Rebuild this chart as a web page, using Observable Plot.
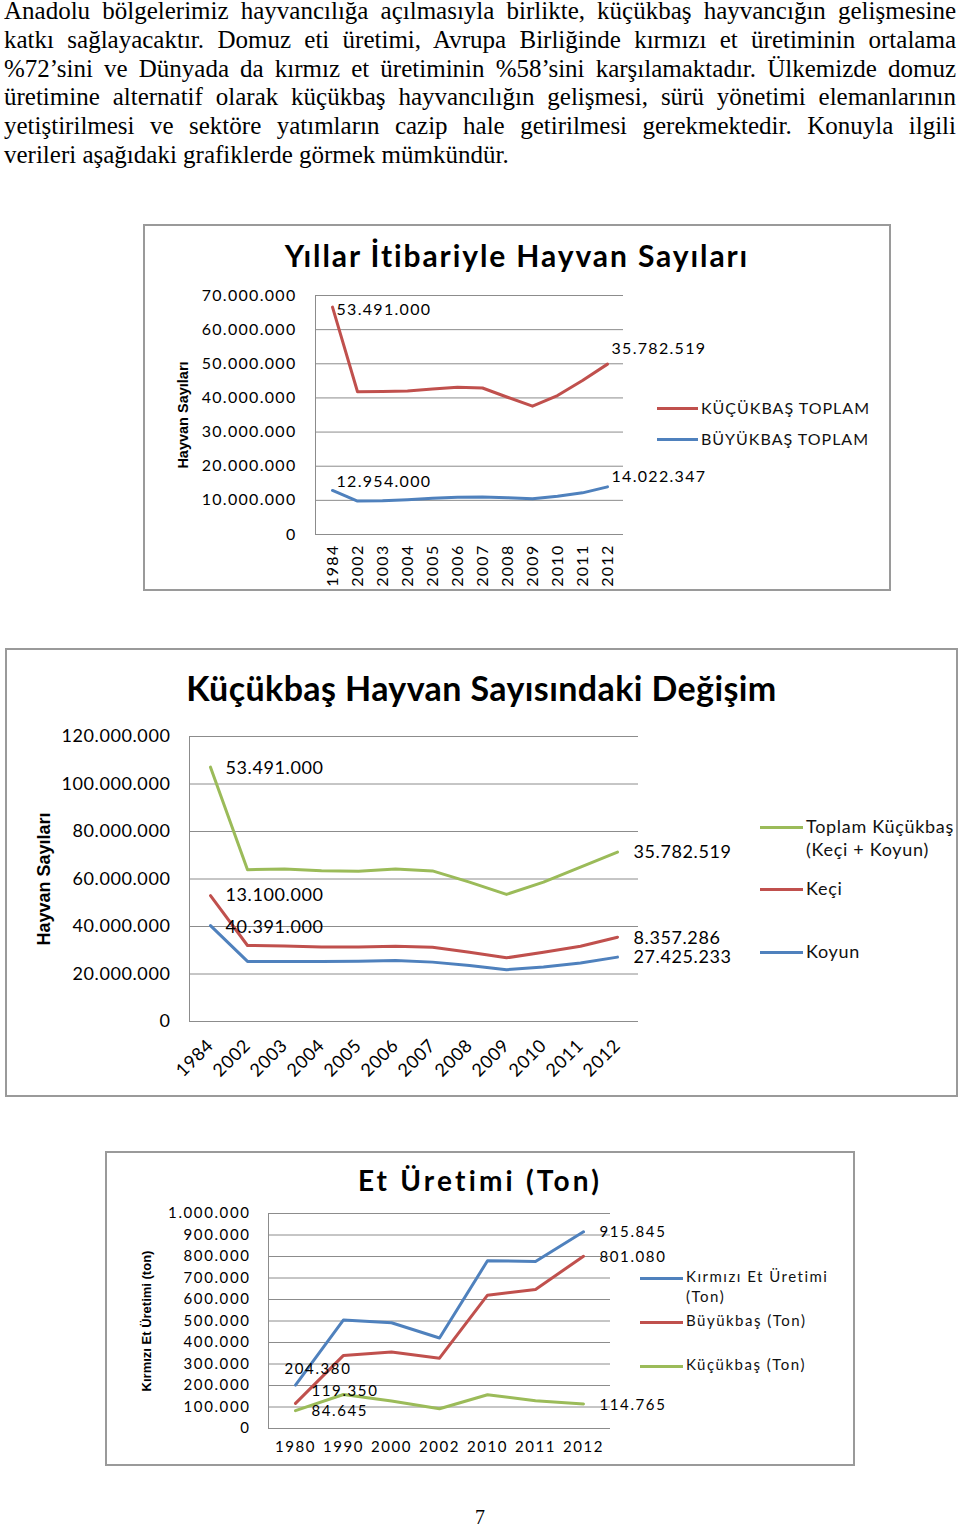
<!DOCTYPE html>
<html><head><meta charset="utf-8">
<script src="https://cdn.jsdelivr.net/npm/d3@7"></script>
<script src="https://cdn.jsdelivr.net/npm/@observablehq/plot@0.6"></script>
<style>
html,body{margin:0;padding:0;background:#fff;}
body{width:960px;height:1529px;position:relative;overflow:hidden;}
#para{position:absolute;left:4px;top:-3px;width:952px;font-family:"Liberation Serif","Times New Roman",serif;font-size:25px;line-height:28.8px;color:#000;}
#para div{text-align:justify;text-align-last:justify;}
#para div.last{text-align-last:left;}
.frame{position:absolute;border:2px solid #9a9a9a;box-sizing:border-box;background:#fff;}
.title{position:absolute;text-align:center;font-family:Lato,sans-serif;font-weight:bold;color:#000;white-space:nowrap;line-height:1;}
.leg{position:absolute;font-family:Lato,sans-serif;color:#111;white-space:nowrap;line-height:1.3;}
.leg .sw{position:absolute;height:3px;}
#pnum{position:absolute;left:0;width:960px;top:1506px;text-align:center;font-family:"Liberation Serif",serif;font-size:20px;}
</style></head>
<body>
<div id="para">
<div>Anadolu bölgelerimiz hayvancılığa açılmasıyla birlikte, küçükbaş hayvancığın gelişmesine</div>
<div>katkı sağlayacaktır. Domuz eti üretimi, Avrupa Birliğinde kırmızı et üretiminin ortalama</div>
<div>%72’sini ve Dünyada da kırmız et üretiminin %58’sini karşılamaktadır. Ülkemizde domuz</div>
<div>üretimine alternatif olarak küçükbaş hayvancılığın gelişmesi, sürü yönetimi elemanlarının</div>
<div>yetiştirilmesi ve sektöre yatımların cazip hale getirilmesi gerekmektedir. Konuyla ilgili</div>
<div class="last">verileri aşağıdaki grafiklerde görmek mümkündür.</div>
</div>

<div class="frame" style="left:143px;top:224px;width:748px;height:367px;"></div>
<div class="frame" style="left:5px;top:648px;width:953px;height:449px;"></div>
<div class="frame" style="left:105px;top:1151px;width:750px;height:315px;"></div>

<div class="title" style="left:143px;width:748px;top:240px;font-size:30px;letter-spacing:1.9px;">Yıllar İtibariyle Hayvan Sayıları</div>
<div class="title" style="left:5px;width:953px;top:671px;font-size:34px;letter-spacing:0.4px;">Küçükbaş Hayvan Sayısındaki Değişim</div>
<div class="title" style="left:105px;width:750px;top:1166px;font-size:28px;letter-spacing:3.2px;">Et Üretimi (Ton)</div>

<div id="pnum">7</div>

<script>
// ---------- DATA ----------
const years1 = ["1984","2002","2003","2004","2005","2006","2007","2008","2009","2010","2011","2012"];
const kucukbasToplam1 = [66.6e6, 41.8e6, 41.9e6, 42.0e6, 42.6e6, 43.1e6, 42.9e6, 40.2e6, 37.6e6, 40.7e6, 45.1e6, 49.9e6];
const buyukbasToplam1 = [12.9e6, 9.8e6, 9.9e6, 10.2e6, 10.6e6, 10.9e6, 11.0e6, 10.8e6, 10.5e6, 11.2e6, 12.2e6, 13.95e6];
const yTicks1 = [0, 10e6, 20e6, 30e6, 40e6, 50e6, 60e6, 70e6];
const dataLabels1 = ["53.491.000", "35.782.519", "12.954.000", "14.022.347"];
const legend1 = ["KÜÇÜKBAŞ TOPLAM", "BÜYÜKBAŞ TOPLAM"];
const title1 = "Hayvan Sayıları";

const years2 = ["1984","2002","2003","2004","2005","2006","2007","2008","2009","2010","2011","2012"];
const toplamKucukbas2 = [107.1e6, 63.9e6, 64.2e6, 63.5e6, 63.3e6, 64.2e6, 63.4e6, 58.7e6, 53.5e6, 58.7e6, 65.0e6, 71.3e6];
const keci2 = [53.0e6, 32.0e6, 31.8e6, 31.4e6, 31.4e6, 31.7e6, 31.3e6, 29.2e6, 26.8e6, 29.2e6, 31.7e6, 35.5e6];
const koyun2 = [40.4e6, 25.3e6, 25.3e6, 25.3e6, 25.4e6, 25.7e6, 25.0e6, 23.6e6, 21.8e6, 22.9e6, 24.6e6, 27.1e6];
const yTicks2 = [0, 20e6, 40e6, 60e6, 80e6, 100e6, 120e6];
const dataLabels2 = ["53.491.000", "35.782.519", "13.100.000", "8.357.286", "40.391.000", "27.425.233"];
const legend2 = ["Toplam Küçükbaş", "(Keçi + Koyun)", "Keçi", "Koyun"];
const title2 = "Hayvan Sayıları";

const years3 = ["1980","1990","2000","2002","2010","2011","2012"];
const kirmiziEt3 = [202000, 505000, 492000, 421000, 780000, 777000, 915000];
const buyukbasEt3 = [117000, 340000, 356000, 327000, 620000, 647000, 801000];
const kucukbasEt3 = [83000, 158000, 128000, 92000, 157000, 129000, 114000];
const yTicks3 = [0, 100000, 200000, 300000, 400000, 500000, 600000, 700000, 800000, 900000, 1000000];
const dataLabels3 = ["915.845", "801.080", "204.380", "119.350", "84.645", "114.765"];
const legend3 = ["Kırmızı Et Üretimi", "(Ton)", "Büyükbaş (Ton)", "Küçükbaş (Ton)"];
const title3 = "Kırmızı Et Üretimi (ton)";

// ---------- HELPERS ----------
const blue = "#4F81BD", red = "#C0504D", green = "#9BBB59", gridC = "#8c8c8c";
const fmt = d3.formatLocale({decimal: ",", thousands: ".", grouping: [3], currency: ["", ""]}).format(",");
const series = (xs, vs) => xs.map((x, i) => ({x, y: vs[i]}));
const lab = (x, y, t, dx, dy, anchor = "start") =>
  Plot.text([{x, y, t}], {x: "x", y: "y", text: "t", dx, dy, textAnchor: anchor});
function place(svg, left, top) {
  svg.style.position = "absolute";
  svg.style.left = left + "px";
  svg.style.top = top + "px";
  svg.querySelectorAll('g[font-weight="bold"]').forEach(g => g.style.letterSpacing = "0px");
  document.body.appendChild(svg);
}
function legend(left, items, fontSize, letterSpacing, swLen) {
  items.forEach(it => {
    const d = document.createElement("div");
    d.className = "leg";
    d.style.left = left + "px";
    d.style.top = it.y + "px";
    d.style.fontSize = fontSize + "px";
    d.style.letterSpacing = letterSpacing + "px";
    d.style.paddingLeft = (swLen + 3) + "px";
    d.innerHTML = `<div class="sw" style="left:0;width:${swLen}px;top:${it.lineTop}px;background:${it.color}"></div>${it.text}`;
    document.body.appendChild(d);
  });
}
const yTitle = (t, dx, size) => Plot.text([t], {frameAnchor: "left", dx, rotate: -90, textAnchor: "middle", fontWeight: "bold", fontFamily: "Liberation Sans, Arial, sans-serif", fontSize: size});

// ---------- CHART 1 ----------
const c1 = Plot.plot({
  width: 744, height: 317,
  marginLeft: 170, marginRight: 266, marginTop: 23, marginBottom: 55,
  style: {background: "transparent", fontFamily: "Lato, sans-serif", fontSize: "16px", letterSpacing: "1.3px", color: "#000", overflow: "visible"},
  x: {type: "point", domain: years1, padding: 0.5},
  y: {domain: [0, 70e6]},
  marks: [
    Plot.gridY(yTicks1, {stroke: gridC, strokeOpacity: 1}),
    Plot.frame({anchor: "left", stroke: gridC}),
    Plot.axisY(yTicks1, {tickSize: 0, tickPadding: 19, tickFormat: fmt, label: null, fontSize: 16}),
    Plot.axisX({tickSize: 0, tickPadding: 10, tickRotate: -90, label: null, fontSize: 16}),
    Plot.line(series(years1, kucukbasToplam1), {x: "x", y: "y", stroke: red, strokeWidth: 3, strokeLinejoin: "round"}),
    Plot.line(series(years1, buyukbasToplam1), {x: "x", y: "y", stroke: blue, strokeWidth: 3, strokeLinejoin: "round"}),
    lab(years1[0], kucukbasToplam1[0], dataLabels1[0], 4, 3),
    lab(years1[11], kucukbasToplam1[11], dataLabels1[1], 4, -15),
    lab(years1[0], buyukbasToplam1[0], dataLabels1[2], 4, -9),
    lab(years1[11], buyukbasToplam1[11], dataLabels1[3], 4, -10),
    yTitle(title1, -132, 14.5)
  ]
});
place(c1, 145, 272);
legend(657, [
  {y: 398, lineTop: 9, color: red, text: legend1[0]},
  {y: 429, lineTop: 9, color: blue, text: legend1[1]}
], 16, 1.0, 41);

// ---------- CHART 2 ----------
const c2 = Plot.plot({
  width: 949, height: 377,
  marginLeft: 182, marginRight: 318, marginTop: 18, marginBottom: 74,
  style: {background: "transparent", fontFamily: "Lato, sans-serif", fontSize: "18px", letterSpacing: "0.6px", color: "#000", overflow: "visible"},
  x: {type: "point", domain: years2, padding: 0.5},
  y: {domain: [0, 120e6]},
  marks: [
    Plot.gridY(yTicks2, {stroke: gridC, strokeOpacity: 1}),
    Plot.frame({anchor: "left", stroke: gridC}),
    Plot.axisY(yTicks2, {tickSize: 0, tickPadding: 19, tickFormat: fmt, label: null, fontSize: 18}),
    Plot.axisX({tickSize: 0, tickPadding: 21, tickRotate: -45, label: null, fontSize: 18}),
    Plot.line(series(years2, toplamKucukbas2), {x: "x", y: "y", stroke: green, strokeWidth: 3, strokeLinejoin: "round"}),
    Plot.line(series(years2, keci2), {x: "x", y: "y", stroke: red, strokeWidth: 3, strokeLinejoin: "round"}),
    Plot.line(series(years2, koyun2), {x: "x", y: "y", stroke: blue, strokeWidth: 3, strokeLinejoin: "round"}),
    lab(years2[0], toplamKucukbas2[0], dataLabels2[0], 15, 1),
    lab(years2[11], toplamKucukbas2[11], dataLabels2[1], 16, 0),
    lab(years2[0], keci2[0], dataLabels2[2], 15, 0),
    lab(years2[11], keci2[11], dataLabels2[3], 16, 1),
    lab(years2[0], koyun2[0], dataLabels2[4], 15, 2),
    lab(years2[11], koyun2[11], dataLabels2[5], 16, 0),
    yTitle(title2, -145, 18)
  ]
});
place(c2, 7, 718);
legend(760, [
  {y: 815, lineTop: 11, color: green, text: legend2[0] + "<br>" + legend2[1]},
  {y: 877, lineTop: 11, color: red, text: legend2[2]},
  {y: 940, lineTop: 11, color: blue, text: legend2[3]}
], 18, 0.7, 43);

// ---------- CHART 3 ----------
const c3 = Plot.plot({
  width: 746, height: 264,
  marginLeft: 161, marginRight: 243, marginTop: 13, marginBottom: 36,
  style: {background: "transparent", fontFamily: "Lato, sans-serif", fontSize: "15px", letterSpacing: "1.6px", color: "#000", overflow: "visible"},
  x: {type: "point", domain: years3, padding: 0.5},
  y: {domain: [0, 1e6]},
  marks: [
    Plot.gridY(yTicks3, {stroke: gridC, strokeOpacity: 1}),
    Plot.frame({anchor: "left", stroke: gridC}),
    Plot.axisY(yTicks3, {tickSize: 0, tickPadding: 18, tickFormat: fmt, label: null, fontSize: 15}),
    Plot.axisX({tickSize: 0, tickPadding: 13, label: null, fontSize: 15}),
    Plot.line(series(years3, kirmiziEt3), {x: "x", y: "y", stroke: blue, strokeWidth: 3, strokeLinejoin: "round"}),
    Plot.line(series(years3, buyukbasEt3), {x: "x", y: "y", stroke: red, strokeWidth: 3, strokeLinejoin: "round"}),
    Plot.line(series(years3, kucukbasEt3), {x: "x", y: "y", stroke: green, strokeWidth: 3, strokeLinejoin: "round"}),
    lab(years3[6], kirmiziEt3[6], dataLabels3[0], 16, 0),
    lab(years3[6], buyukbasEt3[6], dataLabels3[1], 16, 1),
    lab(years3[0], kirmiziEt3[0], dataLabels3[2], -11, -16),
    lab(years3[0], buyukbasEt3[0], dataLabels3[3], 16, -12),
    lab(years3[0], kucukbasEt3[0], dataLabels3[4], 16, 1),
    lab(years3[6], kucukbasEt3[6], dataLabels3[5], 16, 1),
    yTitle(title3, -122, 13)
  ]
});
place(c3, 107, 1200);
legend(640, [
  {y: 1267, lineTop: 10, color: blue, text: legend3[0] + "<br>" + legend3[1]},
  {y: 1311, lineTop: 10, color: red, text: legend3[2]},
  {y: 1355, lineTop: 10, color: green, text: legend3[3]}
], 15, 1.5, 43);
</script>
</body></html>
